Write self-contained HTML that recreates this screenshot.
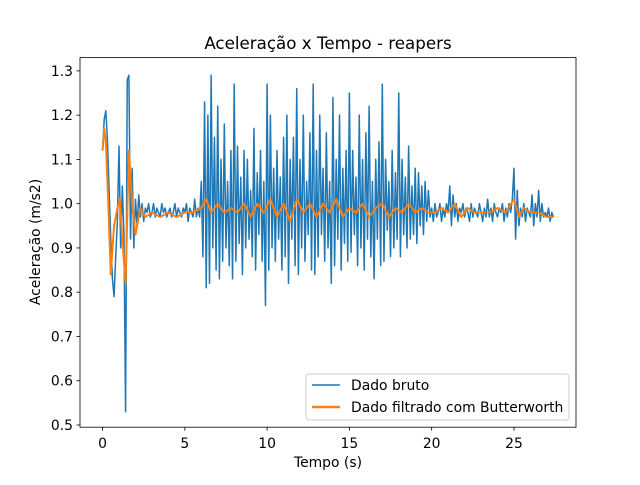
<!DOCTYPE html>
<html><head><meta charset="utf-8"><style>
body{margin:0;background:#fff}
text{font-family:"DejaVu Sans","Liberation Sans",sans-serif;fill:#000}
</style></head><body>
<svg id="chart" width="640" height="480" viewBox="0 0 640 480">
<rect width="640" height="480" fill="#fff"/>
<text x="328" y="49" font-size="16.7" text-anchor="middle">Aceleração x Tempo - reapers</text>
<g id="plot"></g>
<rect x="80" y="57.6" width="496" height="369.6" fill="none" stroke="#000" stroke-width="0.8"/>
<g id="ticks"></g>
<text x="328" y="467" font-size="13.9" text-anchor="middle">Tempo (s)</text>
<text transform="translate(40,242) rotate(-90)" font-size="13.9" text-anchor="middle">Aceleração (m/s2)</text>
<g>
<rect x="306" y="374" width="263" height="46" rx="3" fill="#fff" fill-opacity="0.8" stroke="#ccc" stroke-width="1"/>
<line x1="312" y1="385" x2="340" y2="385" stroke="#1f77b4" stroke-width="1.5"/>
<text x="351" y="390" font-size="13.9">Dado bruto</text>
<line x1="312" y1="407" x2="340" y2="407" stroke="#ff7f0e" stroke-width="2.5"/>
<text x="351" y="412" font-size="13.9">Dado filtrado com Butterworth</text>
</g>
</svg>
<script>
const rawStep = 0.1;
const rawValues = [
1.12,1.19,1.21,1.14,1.03,0.92,0.83,0.79,0.88,0.96,
1.13,0.9,1.04,0.93,0.53,1.28,1.29,0.92,1.08,0.9,
1.01,0.95,1.02,0.97,1.0,0.96,0.99,0.98,1.0,0.97,
0.98,1.0,0.97,0.99,0.98,0.97,1.0,0.98,0.99,0.97,
0.98,0.99,0.97,0.98,1.0,0.97,0.99,0.98,0.97,0.99,
0.98,1.0,0.96,0.99,0.98,0.97,1.01,0.97,0.99,0.97,
1.05,0.88,1.23,0.81,1.2,0.82,1.29,0.9,1.15,0.85,
1.22,0.83,1.1,0.87,1.18,0.9,1.05,0.86,1.12,0.83,
1.27,0.87,1.13,0.91,1.06,0.84,1.12,0.9,1.1,0.92,
1.03,0.88,1.17,0.85,1.07,0.93,1.12,0.87,1.05,0.77,
1.27,0.85,1.2,0.9,1.08,0.87,1.12,0.92,1.06,0.85,
1.15,0.88,1.2,0.82,1.1,0.92,1.15,0.86,1.26,0.84,
1.1,0.9,1.2,0.87,1.05,0.93,1.16,0.85,1.27,0.84,
1.12,0.88,1.2,0.93,1.08,0.87,1.16,0.9,1.05,0.82,
1.24,0.86,1.1,0.92,1.2,0.85,1.08,0.91,1.12,0.87,
1.25,0.89,1.12,0.93,1.06,0.86,1.2,0.9,1.1,0.85,
1.16,0.92,1.22,0.88,1.05,0.83,1.1,0.92,1.14,0.86,
1.27,0.87,1.1,0.94,1.05,0.88,1.12,0.9,1.07,0.92,
1.25,0.88,1.1,0.93,1.06,0.9,1.13,0.92,1.04,0.93,
1.08,0.91,1.07,0.95,1.04,0.93,1.05,0.96,1.03,0.97,
0.99,0.96,1.0,0.97,0.98,1.0,0.96,0.99,0.97,1.0,
0.98,1.04,0.95,1.02,0.97,1.0,0.96,0.99,0.98,1.0,
0.97,0.99,0.98,0.96,1.0,0.97,0.99,0.98,0.97,1.0,
0.98,0.96,0.99,0.97,1.01,0.97,0.99,0.96,1.0,0.98,
0.97,0.99,0.98,1.0,0.96,0.99,0.97,1.0,0.98,1.01,
1.08,0.92,1.03,0.95,0.99,0.97,1.0,0.96,0.99,0.98,
0.97,1.02,0.95,1.0,0.97,1.03,0.96,1.0,0.97,0.98,
0.97,0.99,0.96,0.98,0.97];
const filtTimes = [0,0.1,0.2,0.35,0.5,0.7,0.9,1.05,1.2,1.4,1.6,1.8,2.0,2.3,2.6,3,3.5,4,4.5,5,5.5,6,6.3,6.6,7,7.4,7.8,8.2,8.6,9,9.4,9.8,10.2,10.6,11,11.4,11.8,12.2,12.6,13,13.4,13.8,14.2,14.6,15,15.4,15.8,16.2,16.6,17,17.4,17.8,18.2,18.6,19,19.4,19.8,20.2,20.6,21,21.4,21.8,22.2,22.6,23,23.5,24,24.5,25,25.3,25.6,26,26.5,27,27.4];
const filtValues = [1.12,1.17,1.14,1.0,0.84,0.95,0.99,1.01,0.92,0.82,1.12,1.0,0.93,0.99,0.97,0.98,0.97,0.98,0.97,0.98,0.98,0.99,1.01,0.98,1.0,0.98,0.99,0.98,1.0,0.97,1.0,0.98,1.01,0.97,1.0,0.96,1.01,0.98,1.0,0.97,1.0,0.98,1.01,0.97,0.99,0.98,1.0,0.97,0.99,1.0,0.97,0.99,0.98,1.0,0.98,0.99,0.98,0.98,0.99,0.98,1.0,0.97,0.99,0.98,0.98,0.98,0.99,0.98,1.01,0.97,0.99,0.98,0.98,0.97,0.97];
const xTicks = [0,5,10,15,20,25];
const yTicks = [0.5,0.6,0.7,0.8,0.9,1.0,1.1,1.2,1.3];
const yTickLabels = ["0.5","0.6","0.7","0.8","0.9","1.0","1.1","1.2","1.3"];

const L=80,R=576,T=57.6,B=427.2,xmin=-1.37,xmax=28.77,ymin=0.495,ymax=1.33;
const X=v=>L+(v-xmin)/(xmax-xmin)*(R-L);
const Y=v=>B-(v-ymin)/(ymax-ymin)*(B-T);
const NS="http://www.w3.org/2000/svg";
const plot=document.getElementById('plot'), tk=document.getElementById('ticks');
function mk(tag,attrs,parent){const e=document.createElementNS(NS,tag);for(const k in attrs)e.setAttribute(k,attrs[k]);parent.appendChild(e);return e;}

const raw=mk('path',{d:rawValues.map((v,i)=>(i?'L':'M')+X(i*rawStep).toFixed(2)+','+Y(v).toFixed(2)).join(''),fill:'none',stroke:'#1f77b4','stroke-width':1.5,'stroke-linejoin':'round'},plot);


const filt=mk('path',{d:filtValues.map((v,i)=>(i?'L':'M')+X(filtTimes[i]).toFixed(2)+','+Y(v).toFixed(2)).join(''),fill:'none',stroke:'#ff7f0e','stroke-width':2,'stroke-linejoin':'round'},plot);



xTicks.forEach(v=>{const x=X(v);
 mk('line',{x1:x,x2:x,y1:B,y2:B+3.5,stroke:'#000','stroke-width':0.8},tk);
 const t=mk('text',{x:x,y:B+21,'font-size':13.9,'text-anchor':'middle'},tk);t.textContent=v;
 
 
});
yTicks.forEach((v,i)=>{const y=Y(v);
 mk('line',{x1:L-3.5,x2:L,y1:y,y2:y,stroke:'#000','stroke-width':0.8},tk);
 const t=mk('text',{x:L-7,y:y+5,'font-size':13.9,'text-anchor':'end'},tk);t.textContent=yTickLabels[i];
 
 
});
</script>
</body></html>
